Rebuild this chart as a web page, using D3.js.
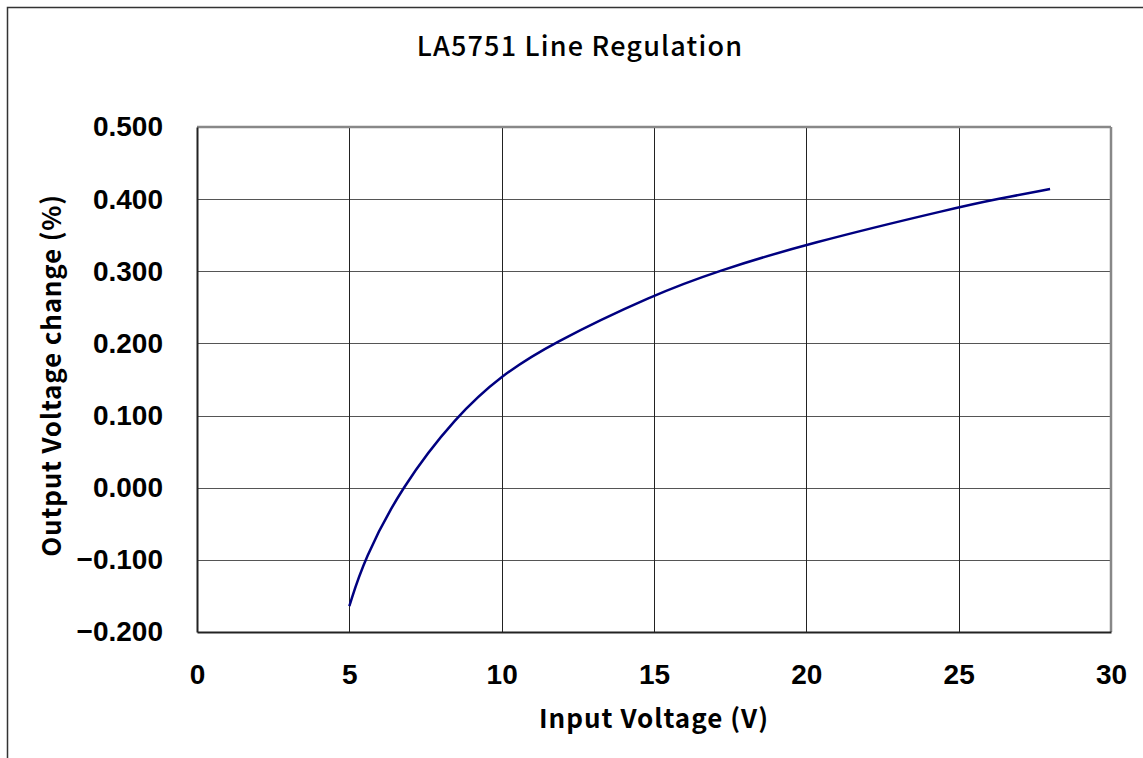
<!DOCTYPE html>
<html>
<head>
<meta charset="utf-8">
<script src="https://cdn.jsdelivr.net/npm/d3@7"></script>
<style>
  html, body { margin: 0; padding: 0; background: #fff; }
  svg { display: block; }
</style>
</head>
<body>
<svg id="chart" width="1143" height="758"></svg>
<script>
// values
const inputVoltage = [5, 5.48, 6.69, 8.52, 10, 11.59, 15, 17.06, 20, 25, 26.24, 28]
const outputChange = [-0.164, -0.1, 0, 0.1, 0.156, 0.199, 0.268, 0.3, 0.338, 0.389, 0.4, 0.414]
const xTicks = [0, 5, 10, 15, 20, 25, 30]
const yTicks = [-0.2, -0.1, 0, 0.1, 0.2, 0.3, 0.4, 0.5]

const W = 1143, H = 758
const m = {top: 127, right: 32, bottom: 126, left: 197}
const iw = W - m.left - m.right
const ih = H - m.top - m.bottom

const svg = d3.select("#chart")
const jp = "'Noto Sans CJK JP', 'Noto Sans', sans-serif"
const num = "'Liberation Sans', Arial, sans-serif"

// outer frame, runs off the right and bottom edges
svg.append("rect")
  .attr("x", 7.5).attr("y", 7.5)
  .attr("width", W + 20).attr("height", H + 20)
  .attr("fill", "none").attr("stroke", "#333").attr("stroke-width", 1.5)

const x = d3.scaleLinear().domain([0, 30]).range([0, iw])
const y = d3.scaleLinear().domain([-0.2, 0.5]).range([ih, 0])

const g = svg.append("g").attr("transform", `translate(${m.left},${m.top})`)

// grid
g.append("g")
  .selectAll("line")
  .data(yTicks.slice(1, -1))
  .join("line")
  .attr("x1", 0).attr("x2", iw)
  .attr("y1", (d) => Math.round(y(d)) + 0.5).attr("y2", (d) => Math.round(y(d)) + 0.5)
  .attr("stroke", "#555").attr("stroke-width", 1)

g.append("g")
  .selectAll("line")
  .data(xTicks.slice(1, -1))
  .join("line")
  .attr("y1", 0).attr("y2", ih)
  .attr("x1", (d) => Math.round(x(d)) + 0.5).attr("x2", (d) => Math.round(x(d)) + 0.5)
  .attr("stroke", "#222").attr("stroke-width", 1)

// plot border: top/right grey, left/bottom dark
g.append("line").attr("x1", 0).attr("x2", iw).attr("y1", 0).attr("y2", 0)
  .attr("stroke", "#888").attr("stroke-width", 2.5)
g.append("line").attr("x1", iw).attr("x2", iw).attr("y1", 0).attr("y2", ih)
  .attr("stroke", "#888").attr("stroke-width", 2.5)

g.append("g")
  .attr("transform", `translate(0,${ih})`)
  .call(d3.axisBottom(x).tickValues(xTicks).tickSize(0).tickPadding(32).tickFormat(d3.format("d")))
  .call((gg) => gg.select(".domain").attr("stroke", "#222").attr("stroke-width", 2))
  .call((gg) => gg.selectAll("text")
    .attr("font-family", num).attr("font-weight", "bold").attr("font-size", 28).attr("fill", "#000"))

g.append("g")
  .call(d3.axisLeft(y).tickValues(yTicks).tickSize(0).tickPadding(34)
    .tickFormat((d) => d3.format(".3f")(d).replace("-", "\u2212")))
  .call((gg) => gg.select(".domain").attr("stroke", "#222").attr("stroke-width", 2))
  .call((gg) => gg.selectAll("text")
    .attr("font-family", num).attr("font-weight", "bold").attr("font-size", 28).attr("fill", "#000"))

// curve
const line = d3.line()
  .x((d, i) => x(inputVoltage[i]))
  .y((d) => y(d))
  .curve(d3.curveBasis)

g.append("path")
  .datum(outputChange)
  .attr("fill", "none")
  .attr("stroke", "#000080")
  .attr("stroke-width", 2.5)
  .attr("d", line)

// titles
svg.append("text")
  .attr("x", 580).attr("y", 56)
  .attr("text-anchor", "middle")
  .attr("font-family", jp).attr("font-weight", 500).attr("font-size", 27)
  .attr("letter-spacing", 1.2)
  .text("LA5751 Line Regulation")

svg.append("text")
  .attr("x", 654).attr("y", 728)
  .attr("text-anchor", "middle")
  .attr("font-family", jp).attr("font-weight", "bold").attr("font-size", 26)
  .attr("letter-spacing", 1)
  .text("Input Voltage (V)")

svg.append("text")
  .attr("transform", `translate(61,${m.top + ih / 2 - 4}) rotate(-90)`)
  .attr("text-anchor", "middle")
  .attr("font-family", jp).attr("font-weight", "bold").attr("font-size", 26)
  .attr("letter-spacing", 0.8)
  .text("Output Voltage change (%)")
</script>
</body>
</html>
